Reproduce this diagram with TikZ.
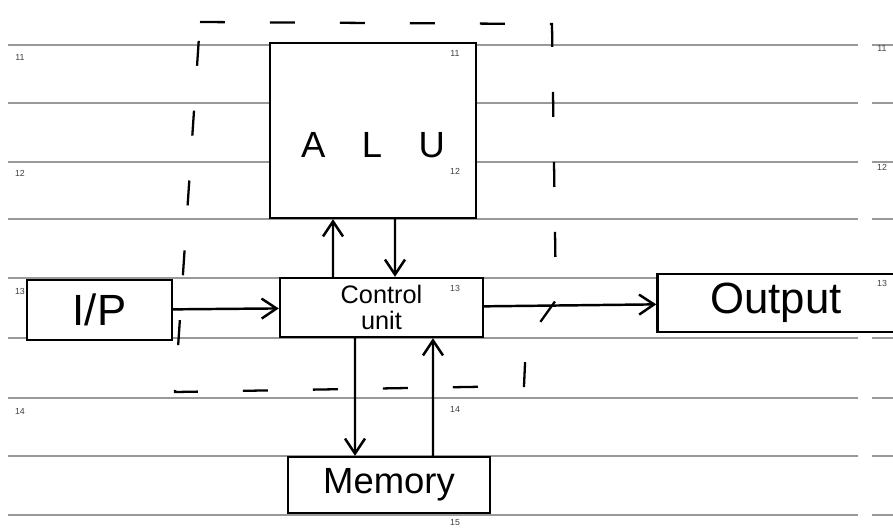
\documentclass[tikz,border=0pt]{standalone}
\usepackage{fontspec}
\setmainfont{Liberation Sans}
\usetikzlibrary{arrows.meta,positioning}

\begin{document}
\begin{tikzpicture}[
      x=0.02cm, y=-0.02cm,
      rule/.style={gray!80, line width=0.7pt},
      lineno/.style={font=\tiny, text=black!75, inner sep=0pt},
      blk/.style={draw, line width=1.4pt, fill=white, inner sep=2pt},
      arr/.style={-{Straight Barb[length=3mm, width=4mm]}, line width=1.4pt},
      grp/.style={line width=1.3pt, dash pattern=on 0.5cm off 0.9cm},
    ]
    \useasboundingbox (0,0) rectangle (893,529);
    % ruled paper
    \foreach \y in {45,103,162,219,278,338,398,456,515}
      \draw[rule] (8,\y) -- (858,\y) (872,\y) -- (893,\y);
    % dashed boundary
    \draw[grp] (200,22) -- (552,24) -- (556,300) -- (526,342) -- (524,386) -- (175,392) -- cycle;
    % blocks
    \node[blk, minimum width=4.12cm, minimum height=3.5cm, font=\huge, text height=1.1cm] (alu) at (373,130.5) {A\quad L\quad U};
    \node[blk, minimum width=2.9cm, minimum height=1.2cm, font=\Huge] (inp) at (99.5,310) {I/P};
    \node[blk, minimum width=4.06cm, minimum height=1.18cm, font=\Large, align=center] (ctrl) at (381.5,307.5) {Control\\[-3pt]unit};
    \node[blk, minimum width=4.74cm, minimum height=1.16cm, font=\Huge] (out) at (776,303) {Output};
    \node[blk, minimum width=4.04cm, minimum height=1.12cm, font=\huge] (mem) at (389,485) {Memory};
    % line numbers
    \foreach \n/\y in {11/57,12/173,13/291,14/411}
      \node[lineno] (l\n) at (20,\y) {\n};
    \foreach \n/\y in {11/53,12/171,13/288,14/409,15/523}
      \node[lineno] (m\n) at (455,\y) {\n};
    \foreach \n/\y in {11/48,12/167,13/283}
      \node[lineno] (r\n) at (882,\y) {\n};
    % connectors
    \draw[arr] (inp) -- (ctrl);
    \draw[arr] (ctrl) -- (out);
    \draw[arr] ([xshift=-0.97cm]ctrl.north) -- ([xshift=-0.8cm]alu.south);
    \draw[arr] ([xshift=0.44cm]alu.south) -- ([xshift=0.27cm]ctrl.north);
    \draw[arr] ([xshift=-0.53cm]ctrl.south) -- ([xshift=-0.68cm]mem.north);
    \draw[arr] ([xshift=0.88cm]mem.north) -- ([xshift=1.03cm]ctrl.south);
  \end{tikzpicture}
\end{document}
